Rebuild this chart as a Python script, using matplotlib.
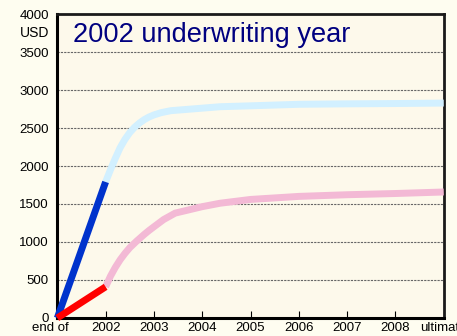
import matplotlib
matplotlib.use('agg')
import matplotlib.pyplot as plt
import matplotlib.transforms as mtransforms

plt.rcParams['font.family'] = ['Liberation Sans', 'DejaVu Sans']

# development periods, in years after the end of 2001
tick_pos = [0, 1, 2, 3, 4, 5, 6, 7, 8]
tick_labels = ['end of', '2002', '2003', '2004', '2005', '2006', '2007', '2008', 'ultimate']

# paid / incurred to end of 2002 (known)
known_x = [0, 1]
incurred_known = [0, 1790]
paid_known = [0, 410]

# projected development after 2002
inc_x = [1.0, 1.1, 1.2, 1.3, 1.4, 1.5, 1.6, 1.7, 1.8, 1.9, 2.0, 2.15, 2.35,
         3.37, 4.0, 5.0, 6.0, 7.0, 8.0]
incurred_proj = [1790, 1950, 2100, 2240, 2350, 2440, 2510, 2565, 2610, 2645, 2672, 2702, 2728,
                 2780, 2792, 2812, 2818, 2822, 2828]
paid_x = [1.0, 1.1, 1.2, 1.3, 1.4, 1.5, 1.64, 1.8, 1.9, 2.0, 2.2, 2.44,
          3.0, 3.37, 4.0, 5.0, 6.0, 7.0, 8.0]
paid_proj = [410, 550, 665, 765, 850, 925, 1010, 1100, 1152, 1200, 1295, 1380,
             1465, 1510, 1560, 1600, 1622, 1638, 1658]

y_ticks = [0, 500, 1000, 1500, 2000, 2500, 3000, 3500, 4000]

fig = plt.figure(figsize=(4.57, 3.36), dpi=100, facecolor='#FEFDF0')
ax = fig.add_axes([0.1254, 0.0536, 0.8456, 0.9047])
ax.set_facecolor('#FDF9EB')

lw = 5
ax.plot(inc_x, incurred_proj, color='#D2F0FF', lw=lw, solid_capstyle='butt',
        solid_joinstyle='round', zorder=3)
ax.plot(paid_x, paid_proj, color='#F3B9D5', lw=lw, solid_capstyle='butt',
        solid_joinstyle='round', zorder=3)
ax.plot(known_x, incurred_known, color='#0033CC', lw=lw, solid_capstyle='butt',
        clip_on=False, zorder=4)
ax.plot(known_x, paid_known, color='#FF0000', lw=lw, solid_capstyle='butt',
        clip_on=False, zorder=4)

ax.set_xlim(0, 8)
ax.set_ylim(0, 4000)
ax.set_yticks(y_ticks)
ax.set_yticklabels([str(v) for v in y_ticks], fontsize=9.5)
ax.set_xticks(tick_pos)
ax.set_xticklabels(tick_labels, fontsize=9.5)
ax.tick_params(axis='y', length=0, pad=6)
ax.tick_params(axis='x', direction='in', length=5, width=0.8, pad=3)

# nudge the first category label a little to the left
lbl = ax.get_xticklabels()[0]
lbl.set_transform(lbl.get_transform() + mtransforms.ScaledTranslation(-7 / 100, 0, fig.dpi_scale_trans))

ax.annotate('USD', xy=(0, 3750), xycoords=('axes fraction', 'data'),
            xytext=(-6, 0), textcoords='offset points', ha='right', va='center',
            fontsize=10)

for y in y_ticks[1:-1]:
    ax.axhline(y, color='#666666', lw=0.8, ls=(0, (2, 1)), zorder=1)

for side in ['left', 'bottom']:
    ax.spines[side].set_linewidth(2.2)
    ax.spines[side].set_color('black')
for side in ['top', 'right']:
    ax.spines[side].set_linewidth(2.0)
    ax.spines[side].set_color('#1a1a1a')

ax.text(0.04, 0.93, '2002 underwriting year', transform=ax.transAxes,
        color='#000080', fontsize=19.6, ha='left', va='center')

fig.savefig('out.png', dpi=100, facecolor=fig.get_facecolor())
